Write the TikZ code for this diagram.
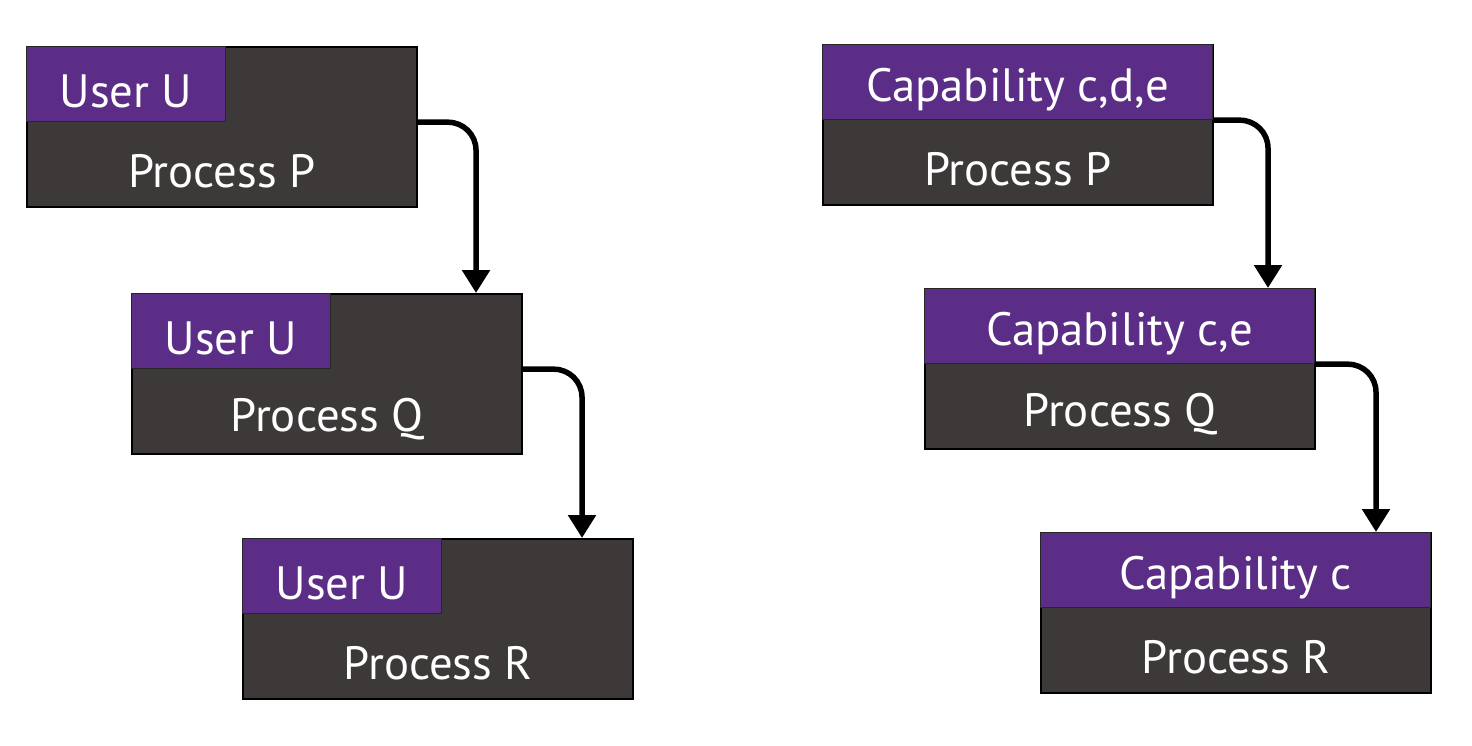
\documentclass[tikz,border=0pt]{standalone}
\usepackage{fontspec}
\setmainfont{PT Sans}
\usetikzlibrary{arrows.meta, positioning, calc}
\definecolor{TagPurple}{HTML}{5C2D87}
\definecolor{ProcGray}{HTML}{3E3939}

\begin{document}
\begin{tikzpicture}[x=0.02cm, y=-0.02cm,
    procbox/.style={draw=black, line width=1.2pt, fill=ProcGray, minimum width=7.8cm, minimum height=3.2cm, anchor=north west, inner sep=0pt},
    usertag/.style={draw=black!85, line width=0.7pt, fill=TagPurple, minimum width=3.98cm, minimum height=1.5cm, anchor=north west, inner sep=0pt},
    captag/.style={usertag, minimum width=7.8cm},
    boxtext/.style={text=white, font=\fontsize{26.6}{32}\selectfont, inner sep=0pt},
    flow/.style={-{Triangle[length=0.46cm, width=0.54cm]}, line width=0.11cm, rounded corners=0.56cm}]
    \useasboundingbox (0,0) rectangle (1472,746);

    % Left column: user identity passed down
    \node[procbox] (uboxP) at (26,46) {};
    \node[procbox] (uboxQ) at (131,293) {};
    \node[procbox] (uboxR) at (242,538) {};
    \node[usertag] (utagP) at (uboxP.north west) {};
    \node[usertag] (utagQ) at (uboxQ.north west) {};
    \node[usertag] (utagR) at (uboxR.north west) {};
    \node[boxtext] (utxtP) at ([yshift=-0.15cm]utagP.center) {User U};
    \node[boxtext] (utxtQ) at ([yshift=-0.15cm]utagQ.center) {User U};
    \node[boxtext] (utxtR) at ([yshift=-0.15cm]utagR.center) {User U};
    \node[boxtext] (unameP) at ([yshift=-0.13cm]$(utagP.south -| uboxP.center)!0.5!(uboxP.south)$) {Process P};
    \node[boxtext] (unameQ) at ([yshift=-0.13cm]$(utagQ.south -| uboxQ.center)!0.5!(uboxQ.south)$) {Process Q};
    \node[boxtext] (unameR) at ([yshift=-0.13cm]$(utagR.south -| uboxR.center)!0.5!(uboxR.south)$) {Process R};

    % Right column: capabilities shrink at each step
    \node[procbox] (cboxP) at (822,44) {};
    \node[procbox] (cboxQ) at (924,288) {};
    \node[procbox] (cboxR) at (1040,532) {};
    \node[captag] (ctagP) at (cboxP.north west) {};
    \node[captag] (ctagQ) at (cboxQ.north west) {};
    \node[captag] (ctagR) at (cboxR.north west) {};
    \node[boxtext] (ctxtP) at ([yshift=-0.15cm]ctagP.center) {Capability c,d,e};
    \node[boxtext] (ctxtQ) at ([yshift=-0.15cm]ctagQ.center) {Capability c,e};
    \node[boxtext] (ctxtR) at ([yshift=-0.15cm]ctagR.center) {Capability c};
    \node[boxtext] (cnameP) at ([yshift=-0.13cm]$(ctagP.south -| cboxP.center)!0.5!(cboxP.south)$) {Process P};
    \node[boxtext] (cnameQ) at ([yshift=-0.13cm]$(ctagQ.south -| cboxQ.center)!0.5!(cboxQ.south)$) {Process Q};
    \node[boxtext] (cnameR) at ([yshift=-0.13cm]$(ctagR.south -| cboxR.center)!0.5!(cboxR.south)$) {Process R};

    % Bends of the connectors
    \coordinate (ubendP) at ([xshift=1.16cm]uboxP.east);
    \coordinate (ubendQ) at ([xshift=1.18cm]uboxQ.east);
    \coordinate (cbendP) at ([xshift=1.08cm]cboxP.east);
    \coordinate (cbendQ) at ([xshift=1.2cm]cboxQ.east);

    \draw[flow] (utagP.south -| uboxP.east) -| (ubendP |- uboxQ.north);
    \draw[flow] (utagQ.south -| uboxQ.east) -| (ubendQ |- uboxR.north);
    \draw[flow] (ctagP.south -| cboxP.east) -| (cbendP |- cboxQ.north);
    \draw[flow] (ctagQ.south -| cboxQ.east) -| (cbendQ |- cboxR.north);

\end{tikzpicture}
\end{document}
